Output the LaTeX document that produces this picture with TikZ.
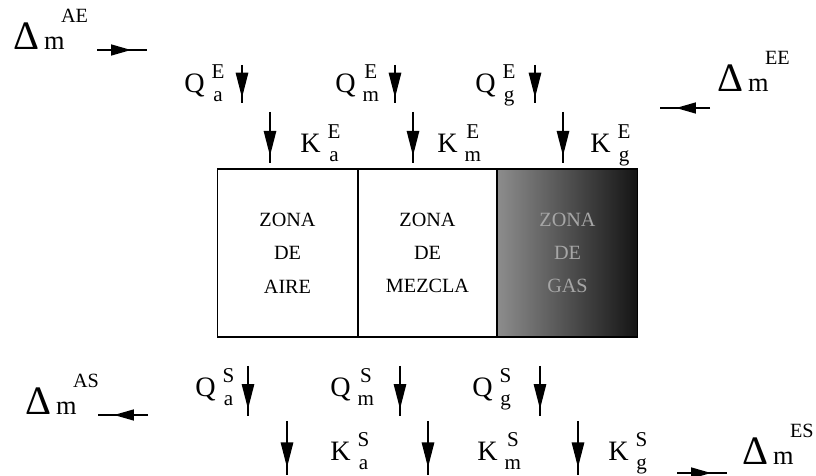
\documentclass[tikz,border=0pt]{standalone}
\usepackage{fontspec}
\setmainfont{Liberation Serif}
\usetikzlibrary{arrows.meta, positioning, decorations.markings}

\newcommand{\magn}[3]{#1\hspace{4pt}\raisebox{1.5pt}{\fontsize{12}{13}\selectfont\begin{tabular}{@{}c@{}}#2\\#3\end{tabular}}}
\newcommand{\dmasa}[1]{{\fontsize{23}{23}\selectfont Δ}\,{\fontsize{15}{15}\selectfont m}\kern-2pt\raisebox{2.1ex}{\fontsize{11.5}{11.5}\selectfont #1}}

\tikzset{
  zona/.style={
    rectangle, draw=black, line width=0.8pt, outer sep=0pt,
    minimum width=2.8cm, minimum height=3.36cm,
    align=center, font=\fontsize{11.5}{19}\selectfont,
  },
  zonagas/.style={zona, left color=black!45, right color=black!92, text=black!35},
  etiq/.style={inner sep=0pt, anchor=base west, font=\fontsize{16}{18}\selectfont},
  flujo/.style={
    line width=0.7pt,
    decoration={markings, mark=at position 0.86 with {\arrow{Triangle[length=5mm,width=2.5mm]}}},
    postaction=decorate,
  },
  flujoh/.style={
    line width=0.9pt,
    decoration={markings, mark=at position 0.68 with {\arrow{Triangle[length=4mm,width=2.2mm]}}},
    postaction=decorate,
  }
}

\begin{document}
\begin{tikzpicture}[x=0.02cm, y=-0.02cm]
  \useasboundingbox (0,0) rectangle (816,476);

  % las tres zonas
  \node[zona] (aire) at (287.5,253) {ZONA\\DE\\AIRE};
  \node[zona, minimum width=2.78cm] (mezcla) at (427.5,253) {ZONA\\DE\\MEZCLA};
  \node[zonagas] (gas) at (567.5,253) {ZONA\\DE\\GAS};

  % entradas
  \node[etiq] (dAE) at (13,50) {\dmasa{AE}};
  \node[etiq] (dEE) at (717,92) {\dmasa{EE}};
  \node[etiq] (qaE) at (184,93) {\magn{Q}{E}{a}};
  \node[etiq] (qmE) at (335,93) {\magn{Q}{E}{m}};
  \node[etiq] (qgE) at (475,93) {\magn{Q}{E}{g}};
  \node[etiq] (kaE) at (300,153) {\magn{K}{E}{a}};
  \node[etiq] (kmE) at (437,153) {\magn{K}{E}{m}};
  \node[etiq] (kgE) at (590,153) {\magn{K}{E}{g}};

  % salidas
  \node[etiq] (dAS) at (25,415) {\dmasa{AS}};
  \node[etiq] (dES) at (742,465) {\dmasa{ES}};
  \node[etiq] (qaS) at (195,397) {\magn{Q}{S}{a}};
  \node[etiq] (qmS) at (330,397) {\magn{Q}{S}{m}};
  \node[etiq] (qgS) at (472,397) {\magn{Q}{S}{g}};
  \node[etiq] (kaS) at (330,461) {\magn{K}{S}{a}};
  \node[etiq] (kmS) at (477,461) {\magn{K}{S}{m}};
  \node[etiq] (kgS) at (608,461) {\magn{K}{S}{g}};

  % extremos de las flechas
  \coordinate (fAE1) at (97,50);   \coordinate (fAE2) at (147,50);
  \coordinate (fEE1) at (710,108); \coordinate (fEE2) at (660,108);
  \coordinate (fAS1) at (148,415); \coordinate (fAS2) at (98,415);
  \coordinate (fES1) at (677,473); \coordinate (fES2) at (727,473);

  \coordinate (fqaE1) at (242,65);  \coordinate (fqaE2) at (242,103);
  \coordinate (fqmE1) at (395,65);  \coordinate (fqmE2) at (395,103);
  \coordinate (fqgE1) at (535,65);  \coordinate (fqgE2) at (535,103);
  \coordinate (fkaE1) at (270,112); \coordinate (fkaE2) at (270,163);
  \coordinate (fkmE1) at (413,112); \coordinate (fkmE2) at (413,163);
  \coordinate (fkgE1) at (563,112); \coordinate (fkgE2) at (563,163);

  \coordinate (fqaS1) at (248,366); \coordinate (fqaS2) at (248,416);
  \coordinate (fqmS1) at (400,366); \coordinate (fqmS2) at (400,416);
  \coordinate (fqgS1) at (540,366); \coordinate (fqgS2) at (540,416);
  \coordinate (fkaS1) at (287,421); \coordinate (fkaS2) at (287,475);
  \coordinate (fkmS1) at (428,421); \coordinate (fkmS2) at (428,475);
  \coordinate (fkgS1) at (578,421); \coordinate (fkgS2) at (578,475);

  \draw[flujoh] (fAE1) -- (fAE2);
  \draw[flujoh] (fEE1) -- (fEE2);
  \draw[flujoh] (fAS1) -- (fAS2);
  \draw[flujoh] (fES1) -- (fES2);

  \draw[flujo] (fqaE1) -- (fqaE2);
  \draw[flujo] (fqmE1) -- (fqmE2);
  \draw[flujo] (fqgE1) -- (fqgE2);
  \draw[flujo] (fkaE1) -- (fkaE2);
  \draw[flujo] (fkmE1) -- (fkmE2);
  \draw[flujo] (fkgE1) -- (fkgE2);

  \draw[flujo] (fqaS1) -- (fqaS2);
  \draw[flujo] (fqmS1) -- (fqmS2);
  \draw[flujo] (fqgS1) -- (fqgS2);
  \draw[flujo] (fkaS1) -- (fkaS2);
  \draw[flujo] (fkmS1) -- (fkmS2);
  \draw[flujo] (fkgS1) -- (fkgS2);

\end{tikzpicture}
\end{document}
